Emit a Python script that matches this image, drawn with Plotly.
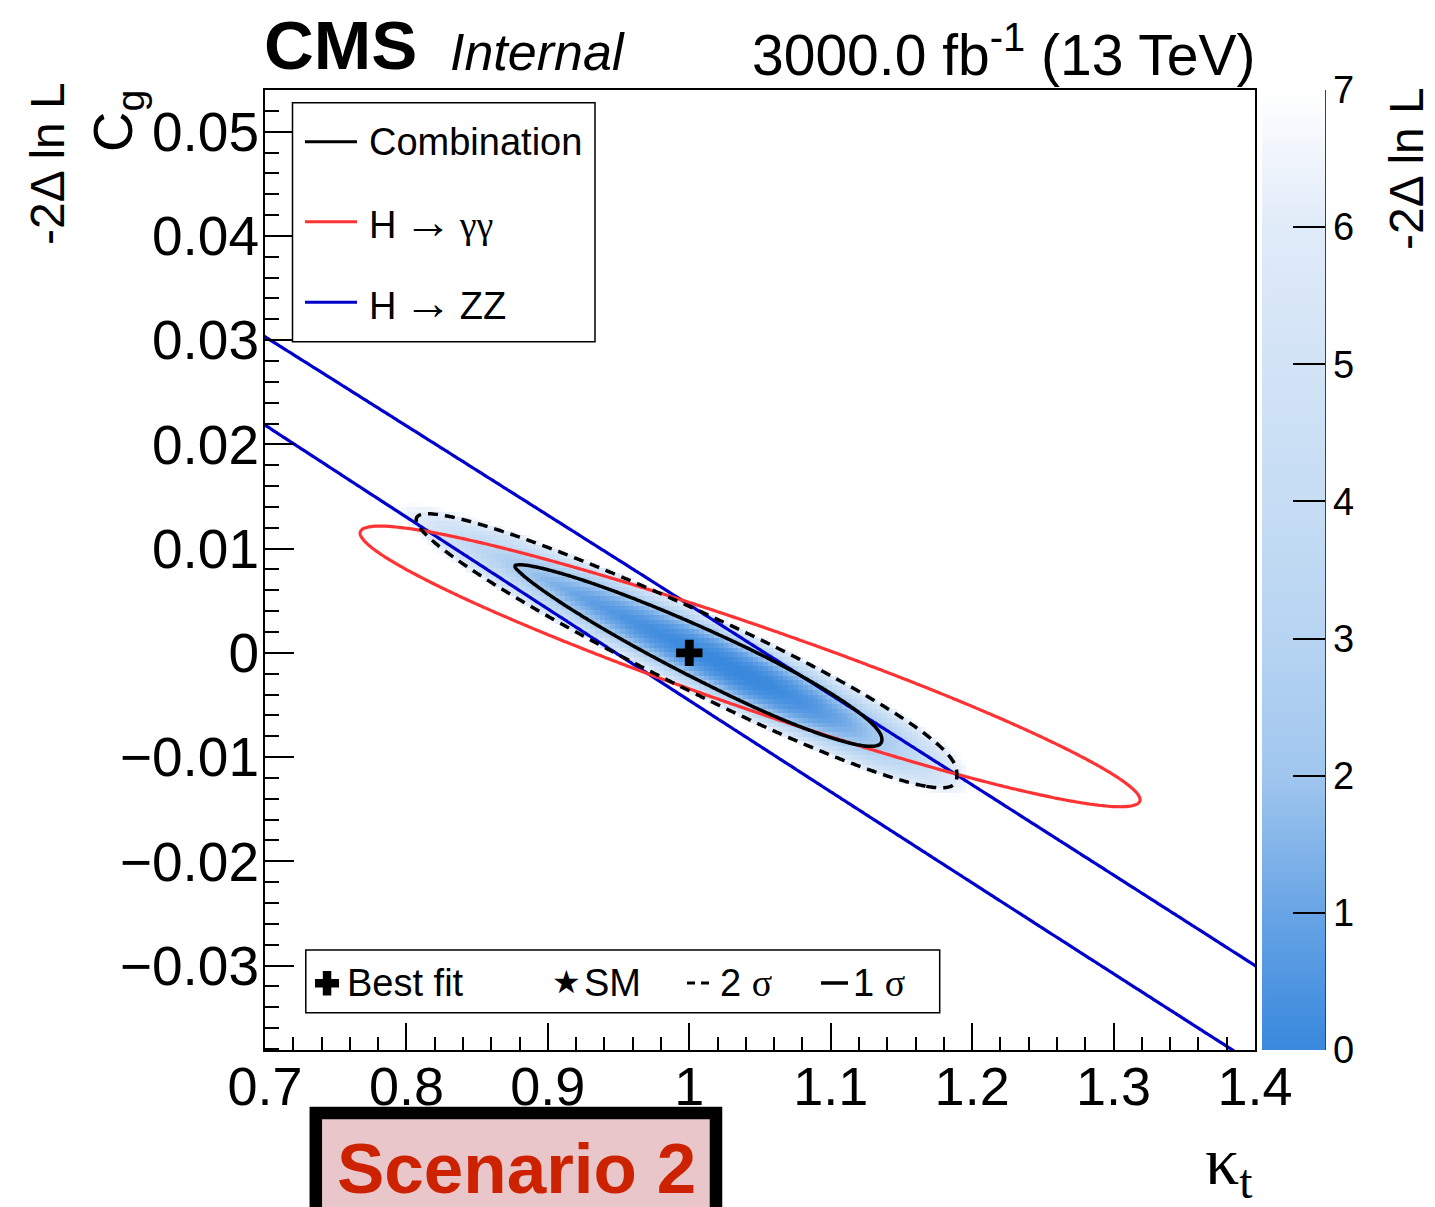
import numpy as np
import plotly.graph_objects as go

# ---------------- values ----------------
KT_RANGE = [0.7, 1.4]
CG_RANGE = [-0.0381, 0.0540]
Z_RANGE = [0, 7]
Z_TICKS = [0, 1, 2, 3, 4, 5, 6, 7]
BEST_FIT_KT = [1.0]
BEST_FIT_CG = [0.0]

# combination: contour levels (1 sigma, 2 sigma) and the contour geometry read for each level
COMB_LEVELS = [2.30, 5.99]
COMB_PEAK = [1.036, -0.0019]          # kt, cg of the widest point of the contours
COMB_AXIS_SLOPE = -0.0641             # dcg/dkt of the line joining the contour tips
COMB_LEFT_REACH = [0.1596, 0.2291]    # kt distance from peak to left tip
COMB_RIGHT_REACH = [0.1002, 0.1532]   # kt distance from peak to right tip
COMB_HALF_THICKNESS = [0.00269, 0.00410]
COMB_LEFT_SHAPE = [0.65, 0.50]
COMB_RIGHT_SHAPE = [0.45, 0.38]

# single channels, 1 sigma contour: [centre kt, centre cg, half width in kt, slope of chord mid-line, half vertical chord]
GAMGAM_1SIGMA = [1.043, -0.0013, 0.2758, -0.0464, 0.0042]
ZZ_1SIGMA = [1.400, -0.03474, 1.559, -0.0869, 0.004745]

LEGEND_NAMES = ["Combination", "H → γγ", "H → ZZ"]
LEGEND_COLORS = ["#000000", "#ff3333", "#0000cc"]

FONT = "Liberation Sans, Arial, Helvetica, sans-serif"
SERIF = "Liberation Serif, Times New Roman, serif"


# ---------------- likelihood surfaces ----------------
def grid(x0, x1, dx, y0, y1, dy):
    x = np.arange(x0, x1 + 1e-12, dx)
    y = np.arange(y0, y1 + 1e-12, dy)
    X, Y = np.meshgrid(x, y)
    return x, y, X, Y


def chi2_channel(p, X, Y):
    c_kt, c_cg, a, k, h = p
    q = ((X - c_kt) / a) ** 2 + ((Y - c_cg - k * (X - c_kt)) / h) ** 2
    return COMB_LEVELS[0] * q


def chi2_combination(X, Y):
    t_scale = np.log(COMB_LEVELS[1] / COMB_LEVELS[0])

    def family(vals, t):
        return vals[0] * (vals[1] / vals[0]) ** t

    def shape(vals, t):
        return np.clip(vals[0] + (vals[1] - vals[0]) * t, 0.3, 1.5)

    da = X - COMB_PEAK[0]
    dc = np.abs(Y - COMB_PEAK[1] - COMB_AXIS_SLOPE * da)
    left = da < 0
    lo = np.full(X.shape, np.log(1e-4))
    hi = np.full(X.shape, np.log(60.0))
    for _ in range(45):
        mid = 0.5 * (lo + hi)
        t = (mid - np.log(COMB_LEVELS[0])) / t_scale
        reach = np.where(left, family(COMB_LEFT_REACH, t), family(COMB_RIGHT_REACH, t))
        beta = np.where(left, shape(COMB_LEFT_SHAPE, t), shape(COMB_RIGHT_SHAPE, t))
        w = family(COMB_HALF_THICKNESS, t)
        prof = np.clip(1 - (da / reach) ** 2, 0, None) ** beta
        inside = dc <= w * prof
        hi = np.where(inside, mid, hi)
        lo = np.where(inside, lo, mid)
    return np.exp(hi)


# heat map (coarse bins like the original histogram)
hx, hy, HX, HY = grid(0.76, 1.24, 0.0035, -0.020, 0.020, 0.00045)
z_heat = chi2_combination(HX, HY)
z_heat = np.round(np.where(z_heat <= Z_RANGE[1], z_heat, np.nan), 3)

# fine grid for the combination contours
cx, cy, CX, CY = grid(0.76, 1.24, 0.0015, -0.020, 0.020, 0.0002)
z_comb = np.round(chi2_combination(CX, CY), 3)

# channel grids
gx, gy, GX, GY = grid(0.72, 1.36, 0.0025, -0.022, 0.020, 0.0003)
z_gg = np.round(chi2_channel(GAMGAM_1SIGMA, GX, GY), 3)
zx, zy, ZX, ZY = grid(0.68, 1.42, 0.003, -0.042, 0.058, 0.00035)
z_zz = np.round(chi2_channel(ZZ_1SIGMA, ZX, ZY), 3)

colorscale = [
    [0.0, "rgb(56,136,221)"],
    [1 / 7, "rgb(104,164,229)"],
    [2 / 7, "rgb(160,198,238)"],
    [3 / 7, "rgb(183,212,242)"],
    [4 / 7, "rgb(198,221,244)"],
    [5 / 7, "rgb(210,227,246)"],
    [6 / 7, "rgb(224,235,249)"],
    [1.0, "rgb(255,255,255)"],
]


def px_x(px):
    return (px - 265) / 990.0


def px_y(py):
    return (1050 - py) / 960.0


fig = go.Figure()

fig.add_trace(go.Heatmap(
    x=hx, y=hy, z=z_heat, zmin=Z_RANGE[0], zmax=Z_RANGE[1],
    colorscale=colorscale, hoverinfo="skip",
    colorbar=dict(
        x=px_x(1262), xanchor="left", xpad=0,
        y=0.5, yanchor="middle", len=1, lenmode="fraction", ypad=0,
        thickness=63, thicknessmode="pixels", outlinewidth=0,
        tickmode="array", tickvals=Z_TICKS, ticks="inside", ticklen=32,
        tickwidth=1.5, tickcolor="black",
        tickfont=dict(family=FONT, size=38, color="black"),
    ),
))


def contour(x, y, z, level, color, width, dash="solid"):
    return go.Contour(
        x=x, y=y, z=z, autocontour=False,
        contours=dict(coloring="none", start=level, end=level, size=1, showlabels=False),
        line=dict(color=color, width=width, dash=dash, smoothing=1),
        showscale=False, hoverinfo="skip", showlegend=False,
    )


fig.add_trace(contour(zx, zy, z_zz, COMB_LEVELS[0], LEGEND_COLORS[2], 3.2))
fig.add_trace(contour(gx, gy, z_gg, COMB_LEVELS[0], LEGEND_COLORS[1], 3.2))
fig.add_trace(contour(cx, cy, z_comb, COMB_LEVELS[1], "black", 3.5, "10px,7px"))
fig.add_trace(contour(cx, cy, z_comb, COMB_LEVELS[0], "black", 3.5))

fig.add_trace(go.Scatter(
    x=BEST_FIT_KT, y=BEST_FIT_CG, mode="markers",
    marker=dict(symbol="cross", size=22, color="black", line=dict(width=0)),
    hoverinfo="skip", showlegend=False,
))

shapes = []
annotations = []

# top-left legend
shapes.append(dict(type="rect", xref="paper", yref="paper",
                   x0=px_x(292.5), x1=px_x(595), y0=px_y(102.7), y1=px_y(341.7),
                   line=dict(color="black", width=1.5), fillcolor="white"))
for i, (name, col) in enumerate(zip(LEGEND_NAMES, LEGEND_COLORS)):
    yy = [141.7, 221.7, 302.3][i]
    shapes.append(dict(type="line", xref="paper", yref="paper",
                       x0=px_x(305), x1=px_x(357), y0=px_y(yy), y1=px_y(yy),
                       line=dict(color=col, width=3)))
    txt = name.replace(" → ", "\u2009<span style='font-size:48px'>→</span>\u2009")
    txt = txt.replace("γγ", "<span style='font-family:Liberation Serif'>γγ</span>")
    annotations.append(dict(text=txt, xref="paper", yref="paper", x=px_x(367), y=px_y(yy),
                            xanchor="left", yanchor="middle", showarrow=False,
                            font=dict(family=FONT, size=38, color="black")))

# bottom legend
shapes.append(dict(type="rect", xref="paper", yref="paper",
                   x0=px_x(305.8), x1=px_x(939.7), y0=px_y(950), y1=px_y(1012.7),
                   line=dict(color="black", width=1.5), fillcolor="white"))
shapes.append(dict(type="rect", xref="paper", yref="paper",
                   x0=px_x(315), x1=px_x(339), y0=px_y(979), y1=px_y(987.5),
                   line=dict(width=0), fillcolor="black"))
shapes.append(dict(type="rect", xref="paper", yref="paper",
                   x0=px_x(322.8), x1=px_x(331.3), y0=px_y(971), y1=px_y(995.5),
                   line=dict(width=0), fillcolor="black"))
shapes.append(dict(type="line", xref="paper", yref="paper",
                   x0=px_x(687), x1=px_x(711), y0=px_y(983), y1=px_y(983),
                   line=dict(color="black", width=3, dash="8px,6px")))
shapes.append(dict(type="line", xref="paper", yref="paper",
                   x0=px_x(821), x1=px_x(848), y0=px_y(983), y1=px_y(983),
                   line=dict(color="black", width=3.5)))
for txt, xx in [("Best fit", 345), ("SM", 582), ("2 <span style='font-family:Liberation Serif'>σ</span>", 718),
                ("1 <span style='font-family:Liberation Serif'>σ</span>", 851)]:
    annotations.append(dict(text=txt, xref="paper", yref="paper", x=px_x(xx), y=px_y(983),
                            xanchor="left", yanchor="middle", showarrow=False,
                            font=dict(family=FONT, size=38, color="black")))
annotations.append(dict(text="★", xref="paper", yref="paper", x=px_x(566), y=px_y(982),
                        xanchor="center", yanchor="middle", showarrow=False,
                        font=dict(family="DejaVu Sans", size=32, color="black")))

# colorbar right edge
shapes.append(dict(type="line", xref="paper", yref="paper",
                   x0=px_x(1325), x1=px_x(1325), y0=px_y(90), y1=px_y(1050),
                   line=dict(color="black", width=1.5)))

# Scenario box
shapes.append(dict(type="rect", xref="paper", yref="paper",
                   x0=px_x(315.8), x1=px_x(716), y0=px_y(1113), y1=px_y(1240),
                   line=dict(color="black", width=12.5), fillcolor="#e8c6ca"))
annotations.append(dict(text="<b>Scenario 2</b>", xref="paper", yref="paper",
                        x=px_x(516), y=px_y(1168), xanchor="center", yanchor="middle",
                        showarrow=False, font=dict(family=FONT, size=71, color="#cc2200")))

# header
annotations.append(dict(text="<b>CMS</b>", xref="paper", yref="paper", x=px_x(262), y=px_y(46),
                        xanchor="left", yanchor="middle", showarrow=False,
                        font=dict(family=FONT, size=69, color="black")))
annotations.append(dict(text="<i>Internal</i>", xref="paper", yref="paper", x=px_x(448), y=px_y(51.5),
                        xanchor="left", yanchor="middle", showarrow=False,
                        font=dict(family=FONT, size=52, color="black")))
annotations.append(dict(text="3000.0 fb<sup>-1</sup> (13 TeV)", xref="paper", yref="paper",
                        x=px_x(1257), y=px_y(51), xanchor="right", yanchor="middle", showarrow=False,
                        font=dict(family=FONT, size=57, color="black")))

# axis titles
annotations.append(dict(text="-2Δ ln L", xref="paper", yref="paper", x=px_x(48), y=px_y(164),
                        xanchor="center", yanchor="middle", textangle=-90, showarrow=False,
                        font=dict(family=FONT, size=48, color="black")))
annotations.append(dict(text="C<sub>g</sub>", xref="paper", yref="paper", x=px_x(116), y=px_y(121),
                        xanchor="center", yanchor="middle", textangle=-90, showarrow=False,
                        font=dict(family=FONT, size=56, color="black")))
annotations.append(dict(text="-2Δ ln L", xref="paper", yref="paper", x=px_x(1406), y=px_y(169),
                        xanchor="center", yanchor="middle", textangle=-90, showarrow=False,
                        font=dict(family=FONT, size=48, color="black")))
annotations.append(dict(text="κ<sub>t</sub>", xref="paper", yref="paper", x=px_x(1255), y=px_y(1165),
                        xanchor="right", yanchor="middle", showarrow=False,
                        font=dict(family=SERIF, size=68, color="black")))

fig.update_layout(
    width=1435, height=1207, autosize=False,
    margin=dict(l=265, r=180, t=90, b=157, pad=0),
    paper_bgcolor="white", plot_bgcolor="white",
    showlegend=False,
    shapes=shapes, annotations=annotations,
    xaxis=dict(range=KT_RANGE, tick0=0.7, dtick=0.1, ticks="inside", ticklen=27, tickwidth=2,
               tickcolor="black", showline=True, linewidth=2, linecolor="black", mirror=True,
               showgrid=False, zeroline=False, ticklabelstandoff=-12,
               minor=dict(ticks="inside", ticklen=13, dtick=0.02, tickwidth=2, tickcolor="black", showgrid=False),
               tickfont=dict(family=FONT, size=54, color="black")),
    yaxis=dict(range=CG_RANGE, tick0=0, dtick=0.01, ticks="inside", ticklen=29, tickwidth=2,
               tickcolor="black", showline=True, linewidth=2, linecolor="black", mirror=True,
               showgrid=False, zeroline=False, ticklabelstandoff=-7,
               minor=dict(ticks="inside", ticklen=14, dtick=0.002, tickwidth=2, tickcolor="black", showgrid=False),
               tickfont=dict(family=FONT, size=55, color="black")),
)

fig.write_html("out.html")
